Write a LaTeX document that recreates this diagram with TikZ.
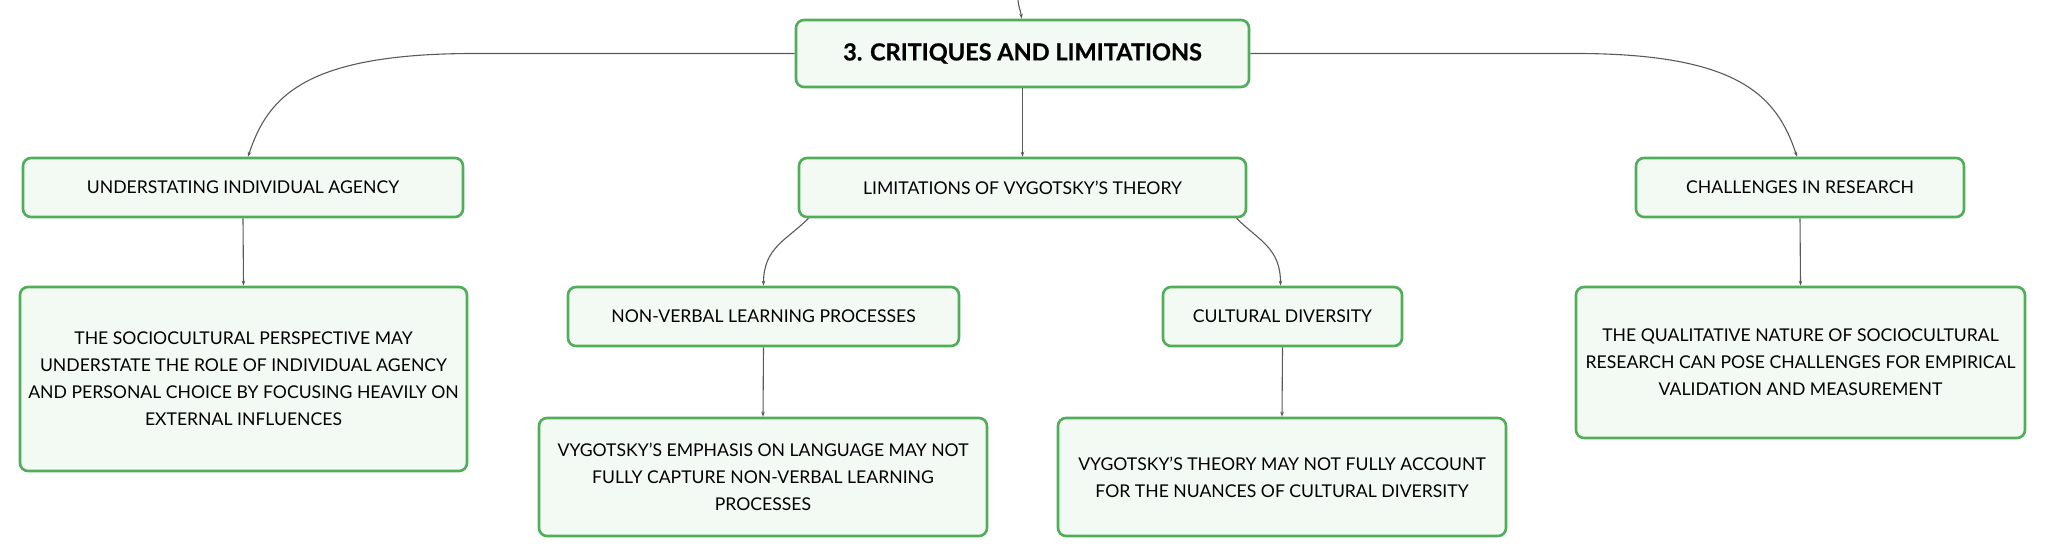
\documentclass[tikz,border=0pt]{standalone}
\usepackage{fontspec}
\setmainfont{Lato}
\newfontfamily\titlefont{Lato Bold}[FakeBold=0.6]
\usetikzlibrary{arrows.meta}
\definecolor{boxgreen}{HTML}{4FAE57}
\definecolor{boxfill}{HTML}{F3FAF4}
\definecolor{linegray}{HTML}{5A5A5A}
\begin{document}
\begin{tikzpicture}[x=1pt,y=1pt,
  box/.style={draw=boxgreen, line width=2.6pt, fill=boxfill, rounded corners=8pt,
    align=center, inner sep=0pt, font=\fontsize{17.6}{27}\selectfont},
  titlebox/.style={box, font=\titlefont\fontsize{23.5}{27}\selectfont},
  conn/.style={draw=linegray, line width=1.1pt, -{Stealth[length=5pt,width=3.5pt]}},
]
\useasboundingbox (0,0) rectangle (2046,559);
% nodes
\node[titlebox, minimum width=453pt, minimum height=67pt] (root) at (1022.5,505.5) {3. CRITIQUES AND LIMITATIONS};
\node[box, minimum width=440pt, minimum height=59pt] (under) at (243,371.5) {UNDERSTATING INDIVIDUAL AGENCY};
\node[box, minimum width=447pt, minimum height=59pt] (lim) at (1022.5,371.5) {LIMITATIONS OF VYGOTSKY’S THEORY};
\node[box, minimum width=328pt, minimum height=59pt] (chal) at (1800,371.5) {CHALLENGES IN RESEARCH};
\node[box, minimum width=447pt, minimum height=184pt] (leftd) at (243.5,180) {THE SOCIOCULTURAL PERSPECTIVE MAY\\UNDERSTATE THE ROLE OF INDIVIDUAL AGENCY\\AND PERSONAL CHOICE BY FOCUSING HEAVILY ON\\EXTERNAL INFLUENCES};
\node[box, minimum width=391pt, minimum height=59pt] (nonv) at (763.5,242.5) {NON-VERBAL LEARNING PROCESSES};
\node[box, minimum width=239pt, minimum height=59pt] (cult) at (1282.5,242.5) {CULTURAL DIVERSITY};
\node[box, minimum width=449pt, minimum height=151pt] (rightd) at (1800.5,196.5) {THE QUALITATIVE NATURE OF SOCIOCULTURAL\\RESEARCH CAN POSE CHALLENGES FOR EMPIRICAL\\VALIDATION AND MEASUREMENT};
\node[box, minimum width=448pt, minimum height=118pt] (emph) at (763,82) {VYGOTSKY’S EMPHASIS ON LANGUAGE MAY NOT\\FULLY CAPTURE NON-VERBAL LEARNING\\PROCESSES};
\node[box, minimum width=448pt, minimum height=118pt] (theo) at (1282,82) {VYGOTSKY’S THEORY MAY NOT FULLY ACCOUNT\\FOR THE NUANCES OF CULTURAL DIVERSITY};
% connectors
\coordinate (topend) at (1018,559);
\draw[conn] (topend) to[out=-86,in=95] ([xshift=-1pt]root.north);
\draw[conn] (root.west) -- ++(-320,0) .. controls +(-170,0) and +(20,60) .. ([xshift=5pt]under.north);
\draw[conn] (root.east) -- ++(325,0) .. controls +(165,0) and +(-20,60) .. ([xshift=-3pt]chal.north);
\draw[conn] (root.south) -- (lim.north);
\draw[conn] ([xshift=-214pt]lim.south) .. controls +(-22,-22) and +(0,38) .. (nonv.north);
\draw[conn] ([xshift=214pt]lim.south) .. controls +(22,-22) and +(0,38) .. ([xshift=-2pt]cult.north);
\draw[conn] (under.south) -- (leftd.north);
\draw[conn] (chal.south) -- (rightd.north);
\draw[conn] (nonv.south) -- (emph.north);
\draw[conn] (cult.south) -- (theo.north);
\end{tikzpicture}
\end{document}
